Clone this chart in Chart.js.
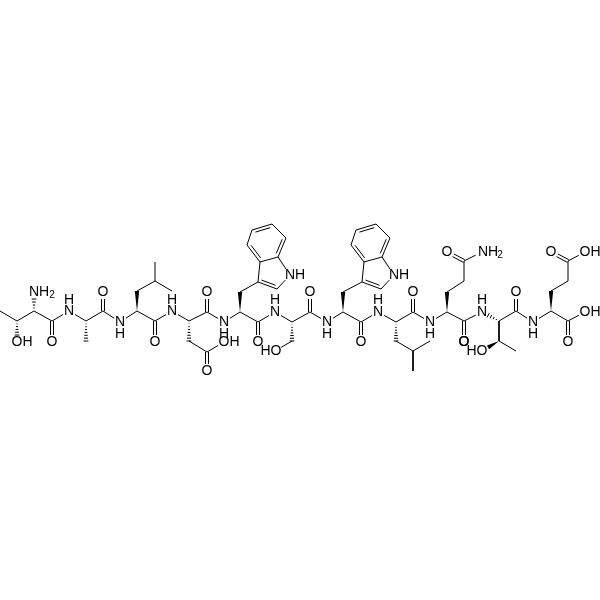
<!DOCTYPE html>
<html>
<head>
<meta charset="utf-8">
<script src="https://cdn.jsdelivr.net/npm/chart.js@4"></script>
<style>
  html, body { margin: 0; padding: 0; background: #fff; }
  canvas { display: block; }
</style>
</head>
<body>
<canvas id="grafico" width="600" height="600"></canvas>
<script>
// atom positions, index = atom number
const atomX = [0, 17, 17, 34, 34, 52, 52, 69, 86, 86, 103, 103, 120, 137, 137, 155, 155, 172, 155, 155,
  172, 189, 189, 207, 224, 207, 207, 207, 224, 240, 240, 258, 277, 290, 278, 260, 247, 252, 272, 286,
  258, 258, 275, 292, 292, 275, 310, 310, 327, 343, 343, 362, 381, 394, 382, 364, 351, 356, 376, 390,
  361, 361, 378, 396, 396, 413, 430, 413, 413, 413, 430, 447, 447, 464, 464, 447, 482, 464, 464, 482,
  499, 499, 482, 516, 516, 516, 533, 551, 551, 568, 568, 551, 585, 568, 585, 568]
const atomY = [311, 321, 342, 311, 292, 321, 342, 311, 321, 341, 311, 292, 322, 311, 291, 281, 262, 291, 321, 342,
  311, 321, 341, 352, 342, 371, 312, 292, 322, 312, 292, 282, 289, 275, 257, 262, 245, 230, 224, 238,
  322, 342, 312, 322, 341, 351, 312, 292, 322, 312, 292, 282, 289, 275, 257, 262, 245, 230, 224, 238,
  322, 342, 312, 322, 341, 351, 341, 371, 312, 292, 322, 312, 292, 281, 261, 252, 252, 321, 342, 312,
  321, 341, 351, 351, 311, 292, 322, 311, 291, 281, 261, 252, 252, 321, 312, 342]

const singleBonds = [[0, 1], [1, 3], [3, 5], [5, 7], [7, 8], [8, 10], [10, 12], [12, 13], [14, 15], [15, 16], [15, 17],
  [13, 18], [18, 20], [20, 21], [22, 23], [23, 24], [21, 26], [26, 28], [28, 29], [30, 31], [31, 35], [32, 33], [33, 34],
  [35, 34], [36, 37], [38, 39], [29, 40], [40, 42], [42, 43], [44, 45], [43, 46], [46, 48], [48, 49], [50, 51], [51, 55],
  [52, 53], [53, 54], [55, 54], [56, 57], [58, 59], [49, 60], [60, 62], [62, 63], [64, 65], [65, 66], [65, 67], [63, 68],
  [68, 70], [70, 71], [72, 73], [73, 74], [74, 76], [71, 77], [77, 79], [80, 81], [81, 83], [80, 84], [84, 86], [86, 87],
  [88, 89], [89, 90], [90, 92], [87, 93], [93, 94]]
const carbonylBonds = [[5, 6], [10, 11], [18, 19], [23, 25], [26, 27], [40, 41], [46, 47], [60, 61], [68, 69], [74, 75],
  [77, 78], [84, 85], [90, 91], [93, 95]]
const ringDoubleBonds = [[31, 32, 0], [35, 36, 1], [37, 38, 1], [39, 34, 1], [51, 52, 2], [55, 56, 3], [57, 58, 3], [59, 54, 3]]
const rings = [[31, 32, 33, 34, 35], [35, 36, 37, 38, 39, 34], [51, 52, 53, 54, 55], [55, 56, 57, 58, 59, 54]]
const wedgeBonds = [[13, 14], [29, 30], [49, 50], [71, 72], [87, 88], [81, 82]]
const hashBonds = [[1, 2], [3, 4], [8, 9], [21, 22], [43, 44], [63, 64], [80, 79]]
const labelledAtoms = [2, 4, 6, 7, 11, 12, 19, 20, 24, 25, 27, 28, 33, 41, 42, 45, 47, 48, 53, 61, 62, 69, 70, 75, 76, 78, 79, 82, 85, 86, 91, 92, 94, 95]

const labelText = ['OH', 'NH', '2', 'O', 'N', 'H', 'O', 'N', 'H', 'O', 'N', 'H', 'O', 'N', 'H', 'O', 'OH', 'NH', 'O', 'N', 'H', 'HO', 'O',
  'N', 'H', 'O', 'NH', 'N', 'H', 'O', 'O', 'N', 'H', 'O', 'NH', '2', 'O', 'N', 'H', 'HO', 'O', 'N', 'H', 'O', 'OH', 'OH', 'O']
const labelX = [22, 39, 52, 52, 69, 69, 103, 120, 120, 155, 172, 172, 207, 224, 224, 207, 229, 295, 258, 275, 275, 271, 310,
  327, 327, 361, 399, 378, 378, 413, 447, 430, 430, 464, 488, 500, 516, 482, 482, 477, 464, 533, 533, 551, 590, 590, 568]
const labelY = [342, 292, 295, 342, 311, 300, 292, 322, 334, 342, 311, 300, 292, 322, 334, 371, 342, 275, 342, 312, 300, 351, 292,
  322, 334, 342, 275, 312, 300, 292, 252, 322, 334, 342, 252, 255, 292, 312, 300, 351, 342, 322, 334, 252, 252, 312, 342]

function clipBond(a, b) {
  const dx = atomX[b] - atomX[a], dy = atomY[b] - atomY[a]
  const len = Math.hypot(dx, dy)
  const ca = labelledAtoms.includes(a) ? 7 / len : 0
  const cb = labelledAtoms.includes(b) ? 7 / len : 0
  return {
    x1: atomX[a] + dx * ca, y1: atomY[a] + dy * ca,
    x2: atomX[b] - dx * cb, y2: atomY[b] - dy * cb,
    nx: -dy / len, ny: dx / len
  }
}

function bondPoints() {
  const pts = []
  const gap = { x: NaN, y: NaN }
  const add = (x1, y1, x2, y2) => pts.push({ x: x1, y: y1 }, { x: x2, y: y2 }, gap)
  singleBonds.forEach(([a, b]) => {
    const c = clipBond(a, b)
    add(c.x1, c.y1, c.x2, c.y2)
  })
  carbonylBonds.forEach(([a, b]) => {
    const c = clipBond(a, b)
    add(c.x1 + c.nx * 1.5, c.y1 + c.ny * 1.5, c.x2 + c.nx * 1.5, c.y2 + c.ny * 1.5)
    add(c.x1 - c.nx * 1.5, c.y1 - c.ny * 1.5, c.x2 - c.nx * 1.5, c.y2 - c.ny * 1.5)
  })
  ringDoubleBonds.forEach(([a, b, r]) => {
    const c = clipBond(a, b)
    add(c.x1, c.y1, c.x2, c.y2)
    const cx = rings[r].reduce((s, i) => s + atomX[i], 0) / rings[r].length
    const cy = rings[r].reduce((s, i) => s + atomY[i], 0) / rings[r].length
    const side = ((cx - c.x1) * c.nx + (cy - c.y1) * c.ny) > 0 ? 3 : -3
    const tx = (c.x2 - c.x1) * 0.13, ty = (c.y2 - c.y1) * 0.13
    add(c.x1 + c.nx * side + tx, c.y1 + c.ny * side + ty, c.x2 + c.nx * side - tx, c.y2 + c.ny * side - ty)
  })
  return pts
}

// wedges, hashes and atom letters, placed through the chart scales
const moleculePlugin = {
  id: 'molecule',
  afterDatasetsDraw(chart) {
    const { ctx, scales: { x, y } } = chart
    ctx.save()
    ctx.fillStyle = '#000'
    ctx.strokeStyle = '#000'
    ctx.lineWidth = 1
    wedgeBonds.forEach(([a, b]) => {
      const c = clipBond(a, b)
      ctx.beginPath()
      ctx.moveTo(x.getPixelForValue(c.x1), y.getPixelForValue(c.y1))
      ctx.lineTo(x.getPixelForValue(c.x2 + c.nx * 2.2), y.getPixelForValue(c.y2 + c.ny * 2.2))
      ctx.lineTo(x.getPixelForValue(c.x2 - c.nx * 2.2), y.getPixelForValue(c.y2 - c.ny * 2.2))
      ctx.closePath()
      ctx.fill()
    })
    hashBonds.forEach(([a, b]) => {
      const c = clipBond(a, b)
      const n = Math.round(Math.hypot(c.x2 - c.x1, c.y2 - c.y1) / 2.8)
      for (let i = 1; i <= n; i++) {
        const t = i / n
        const px = c.x1 + (c.x2 - c.x1) * t, py = c.y1 + (c.y2 - c.y1) * t
        const w = 2.4 * t
        ctx.beginPath()
        ctx.moveTo(x.getPixelForValue(px + c.nx * w), y.getPixelForValue(py + c.ny * w))
        ctx.lineTo(x.getPixelForValue(px - c.nx * w), y.getPixelForValue(py - c.ny * w))
        ctx.stroke()
      }
    })
    ctx.textAlign = 'center'
    ctx.textBaseline = 'middle'
    labelText.forEach((t, i) => {
      ctx.font = (t === '2' ? 10 : 14) + 'px "Liberation Sans"'
      ctx.fillText(t, x.getPixelForValue(labelX[i]), y.getPixelForValue(labelY[i]))
    })
    ctx.restore()
  }
}

new Chart(document.getElementById('grafico'), {
  type: 'scatter',
  data: {
    datasets: [{
      data: bondPoints(),
      showLine: true,
      spanGaps: false,
      borderColor: '#000',
      borderWidth: 1,
      pointRadius: 0,
      tension: 0
    }]
  },
  options: {
    responsive: false,
    animation: false,
    layout: { padding: 0 },
    plugins: { legend: { display: false }, tooltip: { enabled: false } },
    scales: {
      x: { type: 'linear', min: 0, max: 600, display: false },
      y: { type: 'linear', min: 0, max: 600, reverse: true, display: false }
    }
  },
  plugins: [moleculePlugin]
})
</script>
</body>
</html>
